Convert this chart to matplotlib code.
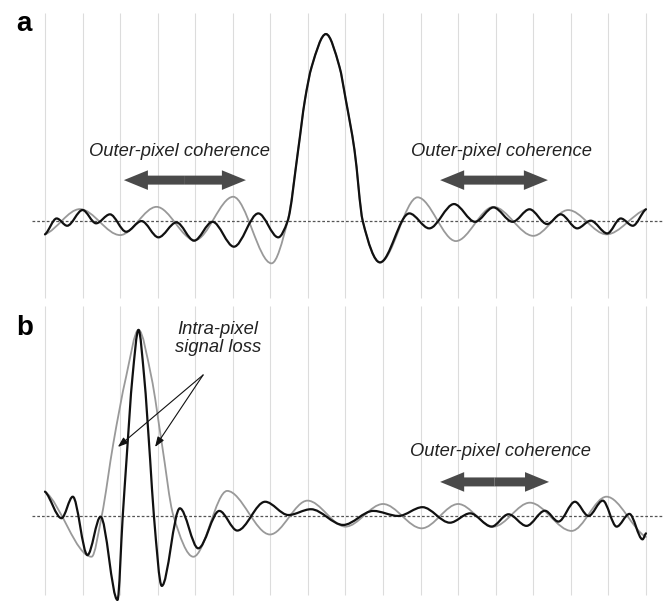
import numpy as np
import matplotlib
matplotlib.use("Agg")
import matplotlib.pyplot as plt
import matplotlib.patches as mpatches
from matplotlib.path import Path

plt.rcParams['font.family'] = ['Liberation Sans', 'DejaVu Sans']

# pixel positions along the line (grid lines at 0..16), amplitude in arbitrary units (peak = 100)
a_black_x = [0.00, 0.31, 0.59, 1.00, 1.36, 1.73, 2.16, 2.57, 3.02, 3.50, 3.97, 4.46, 5.03, 5.68,
             6.21, 6.46, 6.74, 6.92, 7.10, 7.48, 7.84, 8.01, 8.24, 8.46, 8.92, 9.70, 10.23, 10.89,
             11.45, 11.94, 12.45, 12.90, 13.37, 13.73, 14.17, 14.53, 14.97, 15.33, 15.65, 16.00]
a_black_y = [-7.1, 1.4, -2.5, 5.9, -1.2, 3.6, -5.7, 0.0, -8.7, -0.7, -10.5, -0.4, -13.7, 4.1,
             -8.7, 0.0, 38.0, 64.7, 82.5, 100.0, 82.5, 64.7, 38.0, 0.0, -22.1, 4.1, -3.9, 9.1,
             -0.4, 7.3, -0.4, 6.3, -1.6, 3.6, -3.9, 0.2, -6.6, 1.4, -2.5, 6.3]

a_gray_x = [0.00, 0.93, 2.00, 2.97, 3.99, 5.01, 6.03, 6.46, 6.74, 6.92, 7.10, 7.48, 7.84, 8.01,
            8.24, 8.46, 8.92, 9.92, 10.94, 11.94, 13.00, 13.93, 14.95, 16.00]
a_gray_y = [-7.1, 6.4, -7.5, 7.6, -10.2, 13.0, -22.6, 0.0, 38.0, 64.7, 82.5, 100.0, 82.5, 64.7,
            38.0, 0.0, -22.1, 12.7, -10.7, 7.6, -7.9, 5.9, -7.1, 6.3]

b_black_x = [0.00, 0.44, 0.74, 1.13, 1.48, 1.93, 2.07, 2.17, 2.33, 2.49, 2.64, 2.80, 2.90, 3.11,
             3.59, 4.08, 4.64, 5.12, 5.86, 6.48, 7.08, 7.94, 8.74, 9.41, 10.05, 10.78, 11.32,
             11.89, 12.34, 12.82, 13.31, 13.67, 14.11, 14.47, 14.85, 15.22, 15.56, 15.91, 16.00]
b_black_y = [13.0, -1.2, 10.3, -20.9, -0.4, -44.9, 0.0, 29.9, 74.5, 99.5, 74.5, 29.9, 0.0, -37.4,
             4.1, -17.3, 2.7, -7.8, 7.6, 0.5, 3.6, -4.8, 2.7, 0.0, 4.7, -3.6, 1.4,
             -5.7, 0.9, -5.3, 2.8, -3.0, 7.6, 0.0, 8.2, -5.7, 1.1, -12.5, -9.3]

b_gray_x = [0.00, 1.24, 1.51, 1.82, 2.16, 2.49, 2.83, 3.11, 3.42, 3.95, 4.85, 5.99, 6.99, 8.00,
            9.00, 10.03, 11.00, 11.94, 12.91, 14.02, 14.95, 16.00]
b_gray_y = [13.0, -21.8, 0.0, 38.9, 74.5, 99.5, 74.5, 38.9, 0.0, -21.8, 13.4, -9.9, 8.2, -5.7,
            6.4, -6.6, 6.4, -5.7, 7.1, -8.0, 10.3, -11.2]

pixel_edges = np.arange(0, 17)


def smooth_path(xs, ys):
    # cubic hermite through the read points, flat at peaks and troughs
    xs = np.asarray(xs, float)
    ys = np.asarray(ys, float)
    h = np.diff(xs)
    d = np.diff(ys) / h
    m = np.zeros_like(xs)
    for i in range(1, len(xs) - 1):
        if d[i - 1] * d[i] > 0:
            w1 = 2 * h[i] + h[i - 1]
            w2 = h[i] + 2 * h[i - 1]
            m[i] = (w1 + w2) / (w1 / d[i - 1] + w2 / d[i])
    m[0] = 0.5 * d[0]
    m[-1] = 0.5 * d[-1]
    verts = [(xs[0], ys[0])]
    codes = [Path.MOVETO]
    for i in range(len(xs) - 1):
        verts += [(xs[i] + h[i] / 3, ys[i] + m[i] * h[i] / 3),
                  (xs[i + 1] - h[i] / 3, ys[i + 1] - m[i + 1] * h[i] / 3),
                  (xs[i + 1], ys[i + 1])]
        codes += [Path.CURVE4] * 3
    return Path(verts, codes)


def draw_curve(ax, xs, ys, color, lw, z):
    patch = mpatches.PathPatch(smooth_path(xs, ys), fill=False, edgecolor=color, lw=lw,
                               capstyle='round', joinstyle='round', zorder=z, clip_on=False)
    ax.add_patch(patch)


def fat_arrow(ax, x0, x1, y):
    xc = (x0 + x1) / 2
    for xe in (x0, x1):
        ax.add_patch(mpatches.FancyArrow(xc, y, xe - xc, 0, width=4.8, head_width=10.5,
                                         head_length=0.64, length_includes_head=True,
                                         color='#4a4a4a', lw=0, zorder=5))


fig = plt.figure(figsize=(6.63, 6.02), dpi=100)
ax_a = fig.add_axes([0, 302 / 602, 1, 300 / 602])
ax_b = fig.add_axes([0, 0, 1, 300 / 602])

for ax, ylim, gtop, gbot in [(ax_a, (-42.2, 118.2), 111.2, -41.2),
                             (ax_b, (-46.0, 114.4), 112.0, -42.2)]:
    ax.set_xlim(-1.198, 16.454)
    ax.set_ylim(*ylim)
    ax.axis('off')
    ax.vlines(pixel_edges, gbot, gtop, color='#dcdcdc', lw=0.8, zorder=1)
    ax.hlines(0, -0.346, 16.454, color='#555555', lw=0.9, linestyles=(0, (2.2, 1.6)), zorder=2)

draw_curve(ax_a, a_gray_x, a_gray_y, '#999999', 1.3, 3)
draw_curve(ax_a, a_black_x, a_black_y, '#111111', 1.6, 4)
draw_curve(ax_b, b_gray_x, b_gray_y, '#999999', 1.3, 3)
draw_curve(ax_b, b_black_x, b_black_y, '#111111', 1.6, 4)

txt = dict(fontsize=13.2, style='italic', color='#222222', ha='center', va='center')
ax_a.text(3.58, 37.1, 'Outer-pixel coherence', **txt)
ax_a.text(12.16, 37.1, 'Outer-pixel coherence', **txt)
ax_b.text(12.13, 34.4, 'Outer-pixel coherence', **txt)
ax_b.text(4.61, 94.7, 'Intra-pixel\nsignal loss', linespacing=1.07, **txt)

fat_arrow(ax_a, 2.10, 5.35, 21.9)
fat_arrow(ax_a, 10.52, 13.39, 21.9)
fat_arrow(ax_b, 10.52, 13.42, 18.2)

for tip in [(1.94, 36.9), (2.93, 36.9)]:
    ax_b.annotate('', xy=tip, xytext=(4.21, 75.4),
                  arrowprops=dict(arrowstyle='-|>,head_length=0.6,head_width=0.22',
                                  color='#111111', lw=0.8, shrinkA=0, shrinkB=0), zorder=6)

fig.text(16 / 663, 1 - 30.7 / 602, 'a', fontsize=20, fontweight='bold', va='baseline', ha='left')
fig.text(16 / 663, 1 - 335 / 602, 'b', fontsize=20, fontweight='bold', va='baseline', ha='left')

fig.savefig('out.png', dpi=100)
